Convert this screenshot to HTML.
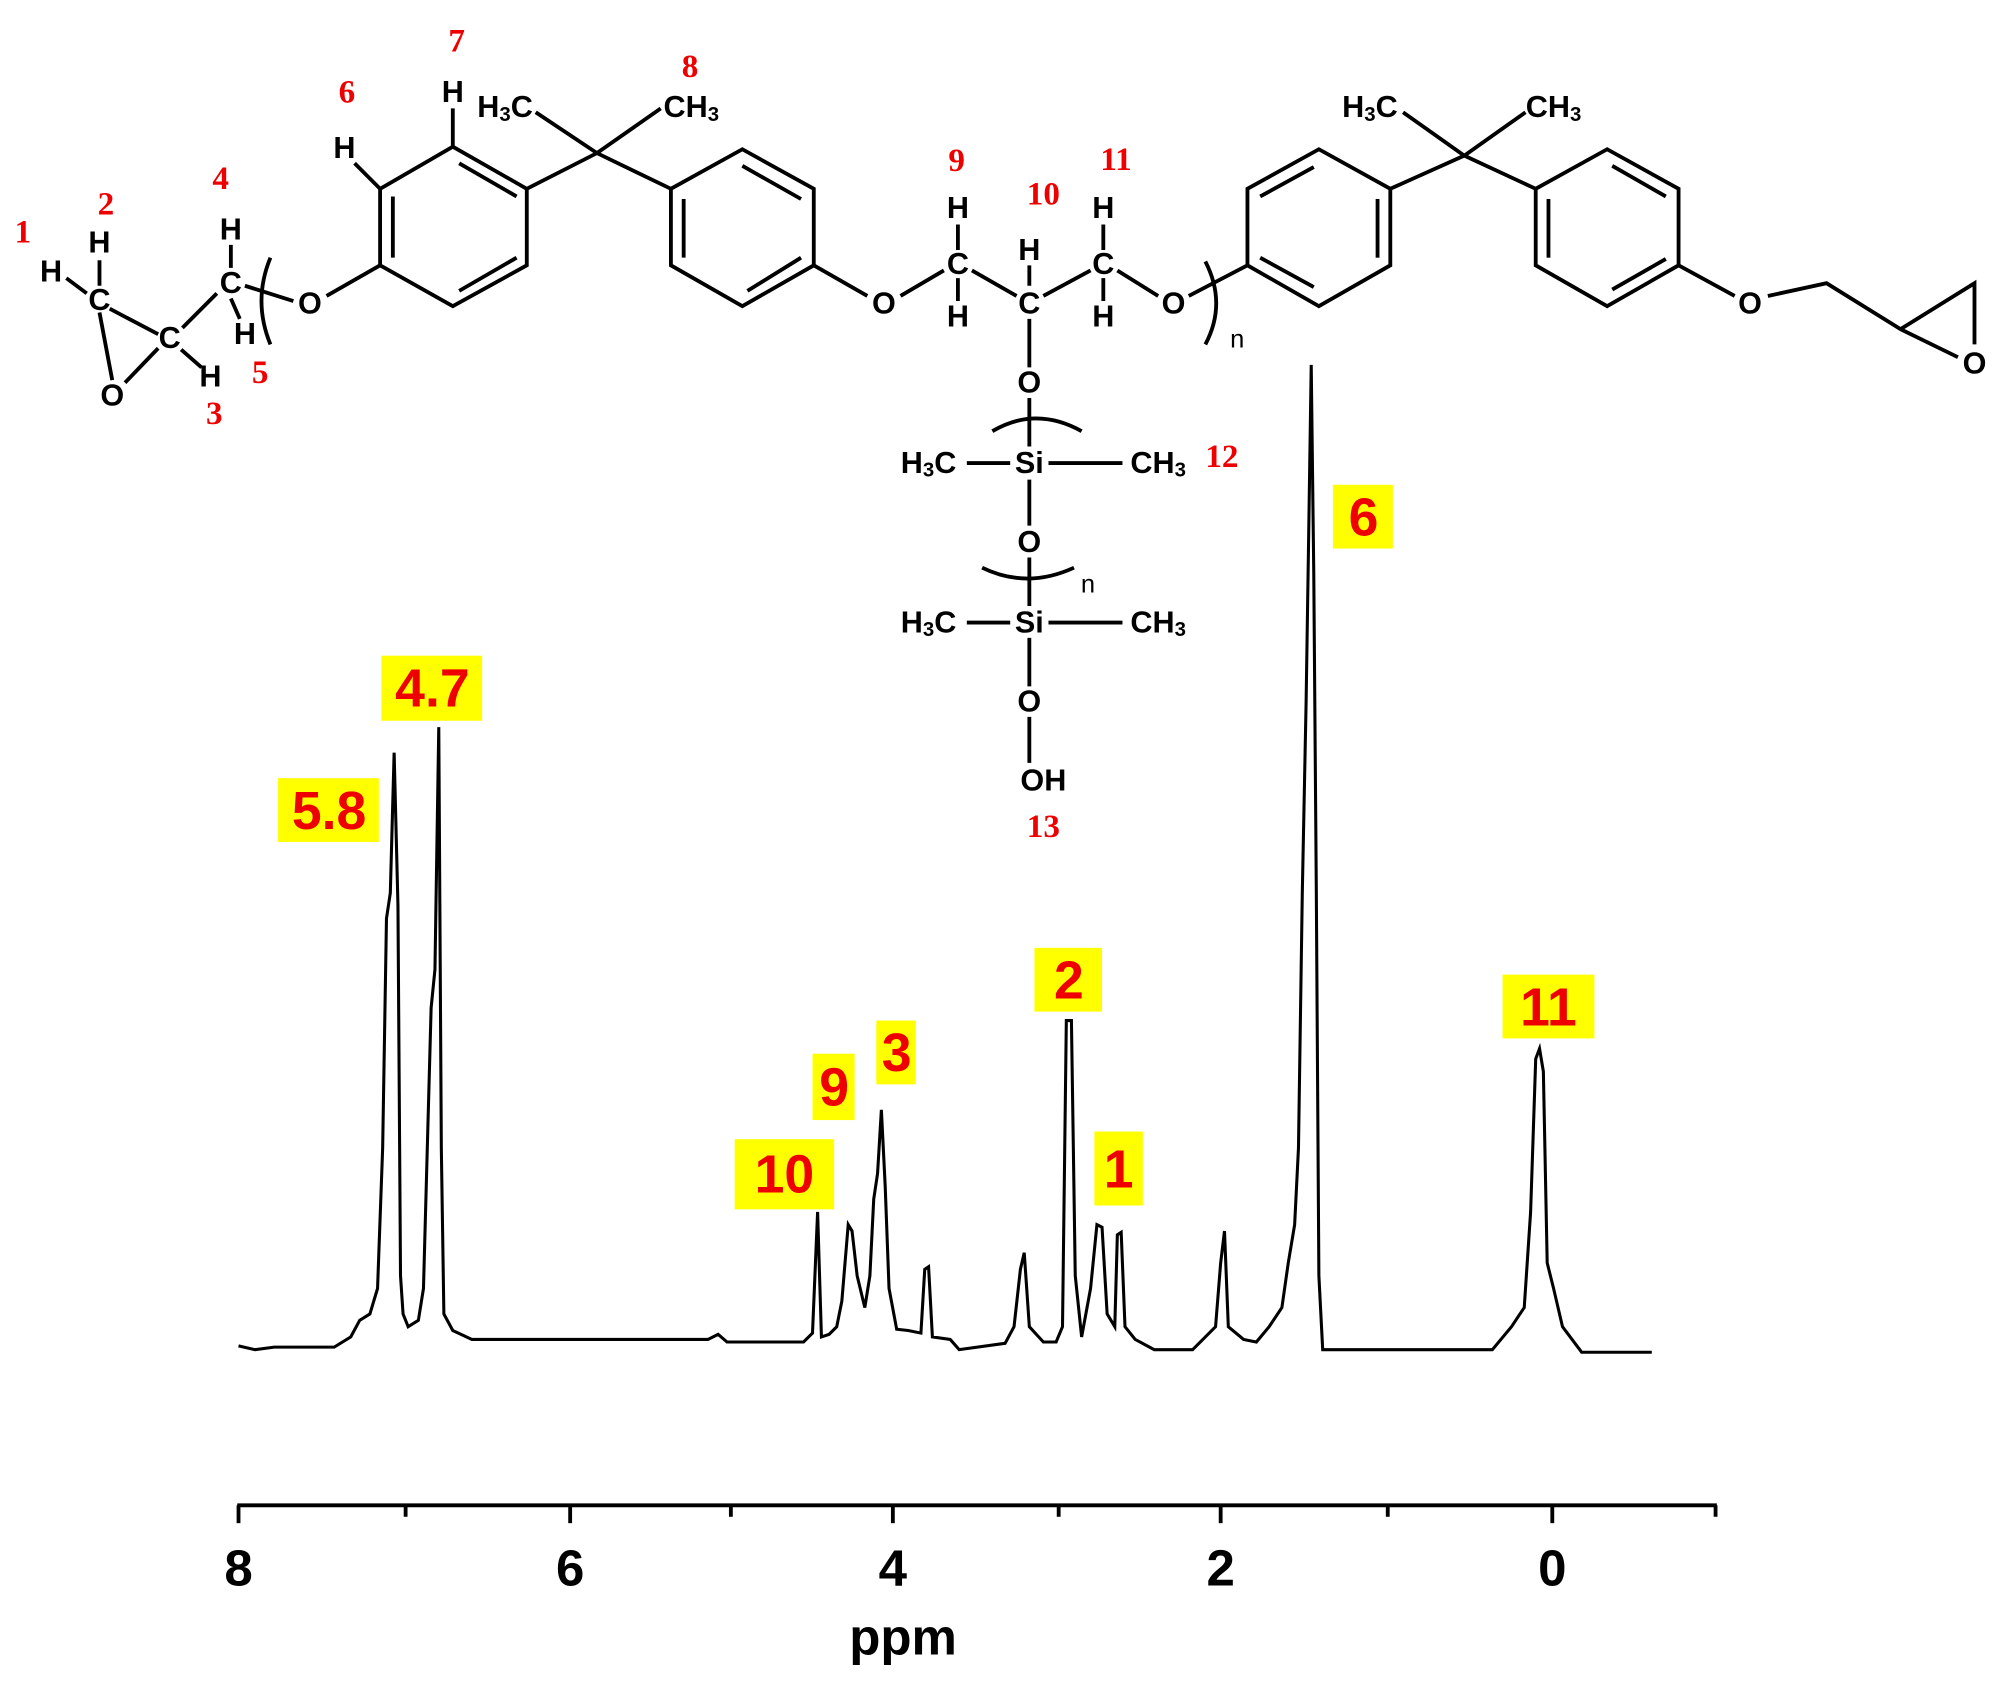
<!DOCTYPE html>
<html><head><meta charset="utf-8"><style>
html,body{margin:0;padding:0;background:#fff;}
svg{display:block;}
.a{font-family:"Liberation Sans",Arial,sans-serif;font-weight:bold;font-size:24px;fill:#000;text-anchor:middle;dominant-baseline:central}
.s{font-size:16px}
.r{font-family:"Liberation Serif",serif;font-weight:bold;font-size:26px;fill:#e00;text-anchor:middle;dominant-baseline:central}
.y{fill:#ffff00}
.l{font-family:"Liberation Sans",Arial,sans-serif;font-weight:bold;font-size:42px;fill:#e00;text-anchor:middle;dominant-baseline:central}
.t{font-family:"Liberation Sans",Arial,sans-serif;font-weight:bold;font-size:40px;fill:#000;text-anchor:middle}
</style></head><body>
<svg width="2000" height="1689" viewBox="0 0 1568 1324" preserveAspectRatio="none" xmlns="http://www.w3.org/2000/svg">
<rect width="1568" height="1324" fill="#fff"/>
<g stroke="#000" stroke-width="3" fill="none">
<polygon points="355,115 413,148 413,208 355,240 298,208 298,148"/>
<line x1="360" y1="128" x2="405" y2="154"/><line x1="405" y1="202" x2="360" y2="228"/><line x1="308" y1="154" x2="308" y2="202"/>
<polygon points="582,117 638,148 638,208 582,240 526,208 526,148"/>
<line x1="582" y1="130" x2="628" y2="156"/><line x1="628" y1="202" x2="586" y2="228"/><line x1="536" y1="156" x2="536" y2="202"/>
<polygon points="1034,117 1090,148 1090,208 1034,240 978,208 978,148"/>
<line x1="988" y1="154" x2="1030" y2="131"/><line x1="1080" y1="156" x2="1080" y2="202"/><line x1="988" y1="202" x2="1030" y2="225"/>
<polygon points="1260,117 1316,148 1316,208 1260,240 1204,208 1204,148"/>
<line x1="1264" y1="130" x2="1306" y2="154"/><line x1="1214" y1="156" x2="1214" y2="202"/><line x1="1264" y1="227" x2="1306" y2="203"/>
<path d="M413,148 L468,120 L526,148 M468,120 L420,88 M468,120 L518,85"/>
<path d="M1090,148 L1148,122 L1204,148 M1148,122 L1100,88 M1148,122 L1196,88"/>
<path d="M355,115 L355,85 M298,148 L278,128"/>
<path d="M298,208 L256,232 M230,236 L192,224 M181,210 L181,192 M181,234 L188,250 M170,230 L143,257 M78,245 L88,298 M86,242 L124,262 M124,273 L98,300 M78,224 L78,204 M68,230 L52,218 M142,274 L158,288"/>
<path d="M212,202 Q198,236 212,270"/>
<path d="M638,208 L680,232 M706,232 L740,212 M751,196 L751,176 M751,218 L751,236 M762,212 L797,232 M807,224 L807,208 M818,232 L855,212 M865,196 L865,176 M865,218 L865,236 M876,212 L908,232 M932,232 L978,208"/>
<path d="M945,205 Q962,238 945,270"/>
<path d="M807,250 L807,288 M807,312 L807,350 M807,376 L807,412 M807,437 L807,475 M807,500 L807,538 M807,562 L807,598"/>
<path d="M758,363 L792,363 M822,363 L880,363 M758,488 L792,488 M822,488 L880,488"/>
<path d="M778,338 Q812,318 848,338 M770,445 Q805,462 842,445"/>
<path d="M1316,208 L1360,232 M1386,232 L1432,222 L1490,258 L1548,222 L1548,270 M1490,258 L1535,280"/>
</g>
<g class="a">
<text x="243" y="238">O</text><text x="181" y="222">C</text><text x="181" y="180">H</text><text x="192" y="262">H</text>
<text x="133" y="265">C</text><text x="88" y="310">O</text><text x="78" y="235">C</text><text x="78" y="190">H</text><text x="40" y="213">H</text><text x="165" y="295">H</text>
<text x="355" y="72">H</text><text x="270" y="116">H</text>
<text x="396" y="84">H<tspan class="s" dy="6">3</tspan><tspan dy="-6">C</tspan></text>
<text x="542" y="84">CH<tspan class="s" dy="6">3</tspan></text>
<text x="1074" y="84">H<tspan class="s" dy="6">3</tspan><tspan dy="-6">C</tspan></text>
<text x="1218" y="84">CH<tspan class="s" dy="6">3</tspan></text>
<text x="693" y="238">O</text><text x="751" y="207">C</text><text x="751" y="163">H</text><text x="751" y="248">H</text>
<text x="807" y="238">C</text><text x="807" y="196">H</text>
<text x="865" y="207">C</text><text x="865" y="163">H</text><text x="865" y="248">H</text>
<text x="920" y="238">O</text>
<text x="807" y="300">O</text><text x="807" y="363">Si</text>
<text x="728" y="363">H<tspan class="s" dy="6">3</tspan><tspan dy="-6">C</tspan></text>
<text x="908" y="363">CH<tspan class="s" dy="6">3</tspan></text>
<text x="807" y="425">O</text><text x="807" y="488">Si</text>
<text x="728" y="488">H<tspan class="s" dy="6">3</tspan><tspan dy="-6">C</tspan></text>
<text x="908" y="488">CH<tspan class="s" dy="6">3</tspan></text>
<text x="807" y="550">O</text><text x="818" y="612">OH</text>
<text x="1372" y="238">O</text><text x="1548" y="285">O</text>
</g>
<g class="a" style="font-weight:normal;font-size:20px"><text x="970" y="266">n</text><text x="853" y="458">n</text></g>
<g class="r">
<text x="18" y="182">1</text><text x="83" y="160">2</text><text x="173" y="140">4</text><text x="168" y="324">3</text><text x="204" y="292">5</text>
<text x="272" y="72">6</text><text x="358" y="32">7</text><text x="541" y="52">8</text>
<text x="750" y="126">9</text><text x="818" y="152">10</text><text x="875" y="125">11</text>
<text x="958" y="358">12</text><text x="818" y="648">13</text>
</g>
<polyline fill="none" stroke="#000" stroke-width="2.4" points="187,1055 200,1058 215,1056 262,1056 275,1048 282,1035 290,1030 296,1010 300,900 303,720 306,700 309,590 312,710 314,1000 316,1030 320,1040 328,1035 332,1010 335,900 338,790 341,760 344,570 346,900 348,1030 355,1043 370,1050 555,1050 563,1046 570,1052 630,1052 637,1045 641,950 644,1048 650,1046 656,1040 660,1020 665,960 668,965 672,1000 678,1025 682,1000 685,940 688,920 691,870 694,930 697,1010 703,1042 712,1043 722,1045 725,995 728,993 731,1048 745,1050 752,1058 788,1053 795,1040 800,995 803,982 807,1040 818,1052 828,1052 833,1040 836,800 840,800 843,1000 848,1048 855,1010 860,960 864,962 868,1030 874,1040 876,968 879,966 882,1040 890,1050 905,1058 935,1058 945,1048 953,1040 957,990 960,965 963,1040 975,1050 985,1052 995,1040 1005,1025 1010,990 1015,960 1018,900 1021,700 1024,550 1026,420 1028,286 1030,450 1032,700 1034,1000 1037,1058 1170,1058 1185,1040 1195,1025 1200,950 1204,830 1207,822 1210,840 1213,990 1218,1010 1225,1040 1240,1060 1295,1060"/>
<g class="y">
<rect x="218" y="610" width="79" height="50"/><rect x="299" y="514" width="79" height="51"/><rect x="1045" y="380" width="47" height="50"/>
<rect x="811" y="743" width="53" height="50"/><rect x="1178" y="764" width="72" height="50"/><rect x="687" y="800" width="31" height="50"/>
<rect x="637" y="826" width="33" height="52"/><rect x="576" y="893" width="78" height="55"/><rect x="858" y="887" width="38" height="58"/>
</g>
<g class="l">
<text x="258" y="636">5.8</text><text x="339" y="540">4.7</text><text x="1069" y="406">6</text>
<text x="838" y="769">2</text><text x="1214" y="790">11</text><text x="703" y="826">3</text>
<text x="654" y="853">9</text><text x="615" y="921">10</text><text x="877" y="917">1</text>
</g>
<g stroke="#000" stroke-width="3">
<line x1="186" y1="1180" x2="1346" y2="1180"/>
<line x1="187" y1="1180" x2="187" y2="1194"/><line x1="447" y1="1180" x2="447" y2="1194"/><line x1="700" y1="1180" x2="700" y2="1194"/><line x1="957" y1="1180" x2="957" y2="1194"/><line x1="1217" y1="1180" x2="1217" y2="1194"/>
<line x1="318" y1="1180" x2="318" y2="1189"/><line x1="573" y1="1180" x2="573" y2="1189"/><line x1="830" y1="1180" x2="830" y2="1189"/><line x1="1088" y1="1180" x2="1088" y2="1189"/><line x1="1345" y1="1180" x2="1345" y2="1189"/>
</g>
<g class="t">
<text x="187" y="1243">8</text><text x="447" y="1243">6</text><text x="700" y="1243">4</text><text x="957" y="1243">2</text><text x="1217" y="1243">0</text>
<text x="708" y="1297">ppm</text>
</g>
</svg>
</body></html>
